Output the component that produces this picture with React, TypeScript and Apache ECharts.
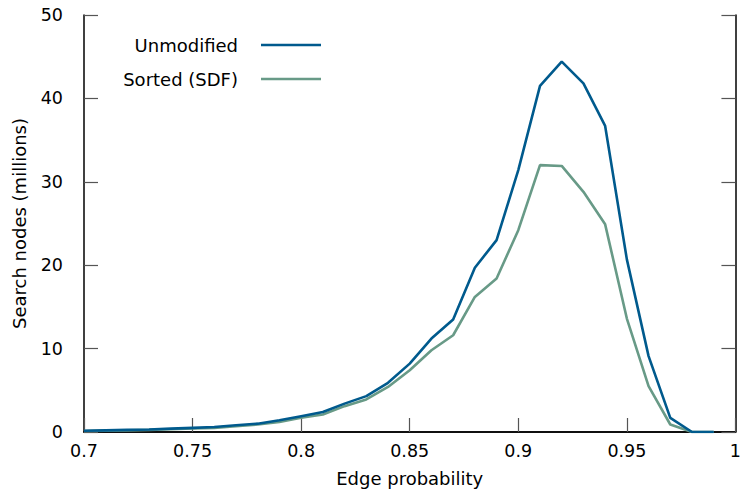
import React, { useEffect, useRef } from "react";
import * as echarts from "echarts";

const edgeProb = [0.7, 0.71, 0.72, 0.73, 0.74, 0.75, 0.76, 0.77, 0.78, 0.79, 0.8, 0.81, 0.82, 0.83, 0.84, 0.85, 0.86, 0.87, 0.88, 0.89, 0.9, 0.91, 0.92, 0.93, 0.94, 0.95, 0.96, 0.97, 0.98, 0.99];
const unmodified = [0.15, 0.2, 0.25, 0.3, 0.4, 0.5, 0.6, 0.8, 1.0, 1.4, 1.9, 2.4, 3.4, 4.3, 5.9, 8.2, 11.2, 13.5, 19.7, 23.0, 31.4, 41.5, 44.4, 41.8, 36.7, 20.7, 9.1, 1.7, 0, 0];
const sortedSDF = [0.12, 0.17, 0.2, 0.25, 0.33, 0.42, 0.5, 0.7, 0.9, 1.2, 1.7, 2.1, 3.1, 3.9, 5.4, 7.4, 9.8, 11.6, 16.2, 18.4, 24.2, 32.0, 31.9, 28.8, 24.9, 13.6, 5.5, 0.9, 0, 0];
const seriesNames = ["Unmodified", "Sorted (SDF)"];
const colors = ["#005a8d", "#689a87"];

const FONT = "DejaVu Sans";

export default function App() {
  const ref = useRef<HTMLDivElement>(null);
  useEffect(() => {
    document.body.style.margin = "0";
    const chart = echarts.init(ref.current!, null, { renderer: "svg" });
    const axisLine = { show: true, lineStyle: { color: "#000", width: 1.5 } };
    const tickStyle = { color: "#555", width: 1.2 };
    const fmt = (v: number) => String(parseFloat(v.toFixed(2)));
    const legendY = [45, 79];
    const graphic: any[] = [];
    seriesNames.forEach((n, i) => {
      graphic.push({
        type: "text",
        x: 238,
        y: legendY[i],
        style: { text: n, font: `18px ${FONT}`, fill: "#000", textAlign: "right", textVerticalAlign: "middle" },
      });
      graphic.push({
        type: "line",
        shape: { x1: 261, y1: legendY[i], x2: 321, y2: legendY[i] },
        style: { stroke: colors[i], lineWidth: 2.6 },
      });
    });
    chart.setOption({
      animation: false,
      backgroundColor: "#fff",
      grid: { left: 84, right: 4, top: 15, bottom: 60 },
      textStyle: { fontFamily: FONT },
      xAxis: [
        {
          type: "value",
          min: 0.7,
          max: 1,
          interval: 0.05,
          axisLine,
          axisTick: { show: true, inside: true, length: 14, lineStyle: tickStyle },
          axisLabel: { fontSize: 17.5, color: "#000", margin: 10, formatter: fmt, fontFamily: FONT },
          splitLine: { show: false },
          name: "Edge probability",
          nameLocation: "middle",
          nameGap: 37,
          nameTextStyle: { fontSize: 18, color: "#000", fontFamily: FONT },
        },
        {
          type: "value",
          position: "top",
          min: 0.7,
          max: 1,
          axisLine,
          axisTick: { show: false },
          axisLabel: { show: false },
          splitLine: { show: false },
        },
      ],
      yAxis: [
        {
          type: "value",
          min: 0,
          max: 50,
          interval: 10,
          axisLine,
          axisTick: { show: true, inside: true, length: 14, lineStyle: tickStyle },
          axisLabel: { fontSize: 17.5, color: "#000", margin: 21, fontFamily: FONT },
          splitLine: { show: false },
          name: "Search nodes (millions)",
          nameLocation: "middle",
          nameGap: 56,
          nameTextStyle: { fontSize: 18, color: "#000", fontFamily: FONT },
        },
        {
          type: "value",
          position: "right",
          min: 0,
          max: 50,
          interval: 10,
          axisLine,
          axisTick: { show: true, inside: true, length: 14, lineStyle: tickStyle },
          axisLabel: { show: false },
          splitLine: { show: false },
        },
      ],
      series: [
        {
          name: seriesNames[0],
          type: "line",
          data: edgeProb.map((x, i) => [x, unmodified[i]]),
          showSymbol: false,
          lineStyle: { color: colors[0], width: 2.6 },
          itemStyle: { color: colors[0] },
          z: 3,
        },
        {
          name: seriesNames[1],
          type: "line",
          data: edgeProb.map((x, i) => [x, sortedSDF[i]]),
          showSymbol: false,
          lineStyle: { color: colors[1], width: 2.6 },
          itemStyle: { color: colors[1] },
          z: 2,
        },
      ],
      graphic,
    });
    return () => chart.dispose();
  }, []);
  return <div ref={ref} style={{ position: "fixed", left: 0, top: 0, width: 744, height: 492 }} />;
}
